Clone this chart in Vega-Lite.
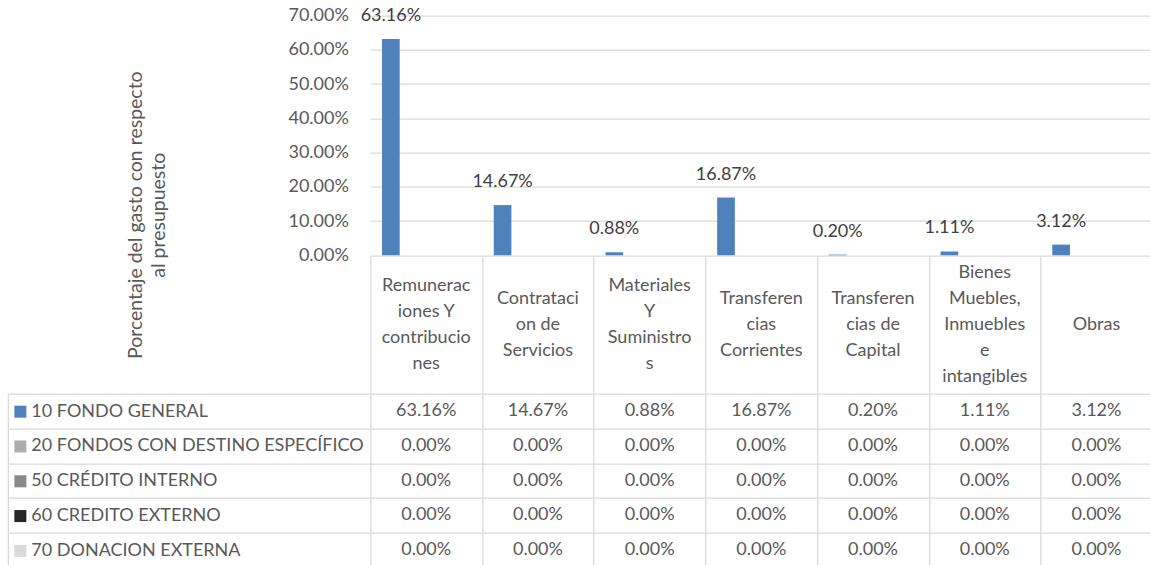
{
  "$schema": "https://vega.github.io/schema/vega-lite/v6.json",
  "background": "white",
  "autosize": {"type": "pad"},
  "padding": {"left": 6.35, "top": 6.7, "right": 0, "bottom": 0},
  "bounds": "flush",
  "spacing": 0,
  "config": {
    "view": {"stroke": null},
    "font": "Lato",
    "text": {"font": "Lato"},
    "axis": {"labelFont": "Lato", "titleFont": "Lato"},
    "legend": {"labelFont": "Lato"}
  },
  "datasets": {
    "gastos": [
      {"fuente": "10 FONDO GENERAL", "partida": "Remuneraciones Y contribuciones", "porcentaje": 0.6316},
      {"fuente": "10 FONDO GENERAL", "partida": "Contratacion de Servicios", "porcentaje": 0.1467},
      {"fuente": "10 FONDO GENERAL", "partida": "Materiales Y Suministros", "porcentaje": 0.0088},
      {"fuente": "10 FONDO GENERAL", "partida": "Transferencias Corrientes", "porcentaje": 0.1687},
      {"fuente": "10 FONDO GENERAL", "partida": "Transferencias de Capital", "porcentaje": 0.0020},
      {"fuente": "10 FONDO GENERAL", "partida": "Bienes Muebles, Inmuebles e intangibles", "porcentaje": 0.0111},
      {"fuente": "10 FONDO GENERAL", "partida": "Obras", "porcentaje": 0.0312},
      {"fuente": "20 FONDOS CON DESTINO ESPECÍFICO", "partida": "Remuneraciones Y contribuciones", "porcentaje": 0},
      {"fuente": "20 FONDOS CON DESTINO ESPECÍFICO", "partida": "Contratacion de Servicios", "porcentaje": 0},
      {"fuente": "20 FONDOS CON DESTINO ESPECÍFICO", "partida": "Materiales Y Suministros", "porcentaje": 0},
      {"fuente": "20 FONDOS CON DESTINO ESPECÍFICO", "partida": "Transferencias Corrientes", "porcentaje": 0},
      {"fuente": "20 FONDOS CON DESTINO ESPECÍFICO", "partida": "Transferencias de Capital", "porcentaje": 0},
      {"fuente": "20 FONDOS CON DESTINO ESPECÍFICO", "partida": "Bienes Muebles, Inmuebles e intangibles", "porcentaje": 0},
      {"fuente": "20 FONDOS CON DESTINO ESPECÍFICO", "partida": "Obras", "porcentaje": 0},
      {"fuente": "50 CRÉDITO INTERNO", "partida": "Remuneraciones Y contribuciones", "porcentaje": 0},
      {"fuente": "50 CRÉDITO INTERNO", "partida": "Contratacion de Servicios", "porcentaje": 0},
      {"fuente": "50 CRÉDITO INTERNO", "partida": "Materiales Y Suministros", "porcentaje": 0},
      {"fuente": "50 CRÉDITO INTERNO", "partida": "Transferencias Corrientes", "porcentaje": 0},
      {"fuente": "50 CRÉDITO INTERNO", "partida": "Transferencias de Capital", "porcentaje": 0},
      {"fuente": "50 CRÉDITO INTERNO", "partida": "Bienes Muebles, Inmuebles e intangibles", "porcentaje": 0},
      {"fuente": "50 CRÉDITO INTERNO", "partida": "Obras", "porcentaje": 0},
      {"fuente": "60 CREDITO EXTERNO", "partida": "Remuneraciones Y contribuciones", "porcentaje": 0},
      {"fuente": "60 CREDITO EXTERNO", "partida": "Contratacion de Servicios", "porcentaje": 0},
      {"fuente": "60 CREDITO EXTERNO", "partida": "Materiales Y Suministros", "porcentaje": 0},
      {"fuente": "60 CREDITO EXTERNO", "partida": "Transferencias Corrientes", "porcentaje": 0},
      {"fuente": "60 CREDITO EXTERNO", "partida": "Transferencias de Capital", "porcentaje": 0},
      {"fuente": "60 CREDITO EXTERNO", "partida": "Bienes Muebles, Inmuebles e intangibles", "porcentaje": 0},
      {"fuente": "60 CREDITO EXTERNO", "partida": "Obras", "porcentaje": 0},
      {"fuente": "70 DONACION EXTERNA", "partida": "Remuneraciones Y contribuciones", "porcentaje": 0},
      {"fuente": "70 DONACION EXTERNA", "partida": "Contratacion de Servicios", "porcentaje": 0},
      {"fuente": "70 DONACION EXTERNA", "partida": "Materiales Y Suministros", "porcentaje": 0},
      {"fuente": "70 DONACION EXTERNA", "partida": "Transferencias Corrientes", "porcentaje": 0},
      {"fuente": "70 DONACION EXTERNA", "partida": "Transferencias de Capital", "porcentaje": 0},
      {"fuente": "70 DONACION EXTERNA", "partida": "Bienes Muebles, Inmuebles e intangibles", "porcentaje": 0},
      {"fuente": "70 DONACION EXTERNA", "partida": "Obras", "porcentaje": 0}
    ],
    "partidas": [
      {"partida": "Remuneraciones Y contribuciones", "etiqueta": "Remunerac\niones Y\ncontribucio\nnes"},
      {"partida": "Contratacion de Servicios", "etiqueta": "Contrataci\non de\nServicios"},
      {"partida": "Materiales Y Suministros", "etiqueta": "Materiales\nY\nSuministro\ns"},
      {"partida": "Transferencias Corrientes", "etiqueta": "Transferen\ncias\nCorrientes"},
      {"partida": "Transferencias de Capital", "etiqueta": "Transferen\ncias de\nCapital"},
      {"partida": "Bienes Muebles, Inmuebles e intangibles", "etiqueta": "Bienes\nMuebles,\nInmuebles\ne\nintangibles"},
      {"partida": "Obras", "etiqueta": "Obras"}
    ]
  },
  "vconcat": [
    {
      "width": 782,
      "height": 239.6,
      "data": {"name": "gastos"},
      "encoding": {
        "x": {
          "field": "partida", "type": "nominal",
          "scale": {"domain": ["Remuneraciones Y contribuciones", "Contratacion de Servicios", "Materiales Y Suministros", "Transferencias Corrientes", "Transferencias de Capital", "Bienes Muebles, Inmuebles e intangibles", "Obras"], "paddingInner": 0, "paddingOuter": 0},
          "axis": null
        },
        "xOffset": {
          "field": "fuente", "type": "nominal",
          "scale": {"domain": ["10 FONDO GENERAL", "20 FONDOS CON DESTINO ESPECÍFICO", "50 CRÉDITO INTERNO", "60 CREDITO EXTERNO", "70 DONACION EXTERNA"], "paddingInner": 0, "paddingOuter": 0.66}
        },
        "y": {
          "field": "porcentaje", "type": "quantitative",
          "scale": {"domain": [0, 0.7], "nice": false, "zero": true},
          "axis": {
            "values": [0, 0.1, 0.2, 0.3, 0.4, 0.5, 0.6, 0.7],
            "format": ".2%",
            "domain": false, "ticks": false,
            "grid": true, "gridColor": "#D9D9D9", "gridWidth": 1.3,
            "labelPadding": 22, "labelFontSize": 18, "labelColor": "#595959",
            "title": ["Porcentaje del gasto con respecto", "al presupuesto"],
            "titleFontSize": 19.5, "titleFontWeight": "normal", "titleColor": "#595959",
            "titleAngle": 270, "titleAlign": "center", "titleBaseline": "middle",
            "titleLineHeight": 23, "titleX": -235, "titleY": 199
          }
        }
      },
      "layer": [
        {
          "mark": {"type": "bar"},
          "encoding": {
            "color": {
              "field": "fuente", "type": "nominal",
              "scale": {"domain": ["10 FONDO GENERAL", "20 FONDOS CON DESTINO ESPECÍFICO", "50 CRÉDITO INTERNO", "60 CREDITO EXTERNO", "70 DONACION EXTERNA"], "range": ["#4F81BD", "#ADADAD", "#8A8A8A", "#262626", "#D9D9D9"]},
              "legend": {
                "orient": "none", "legendX": -359, "legendY": 387,
                "title": null, "padding": 0,
                "symbolType": "square", "symbolSize": 144, "symbolStrokeWidth": 0, "symbolOpacity": 1,
                "labelFontSize": 18, "labelColor": "#595959", "labelOffset": 2, "labelLimit": 400,
                "rowPadding": 16.8
              }
            }
          }
        },
        {
          "transform": [{"filter": "datum.fuente === '10 FONDO GENERAL'"}],
          "mark": {"type": "text", "baseline": "middle", "dy": -23, "fontSize": 18, "color": "#404040"},
          "encoding": {
            "text": {"field": "porcentaje", "type": "quantitative", "format": ".2%"}
          }
        }
      ]
    },
    {
      "width": 782,
      "height": 138,
      "data": {"name": "partidas"},
      "mark": {"type": "text", "lineBreak": "\n", "lineHeight": 26, "fontSize": 18, "color": "#595959", "baseline": "middle", "align": "center", "dy": {"expr": "-13 * (length(split(datum.etiqueta, '\\n')) - 1)"}},
      "encoding": {
        "x": {
          "field": "partida", "type": "nominal",
          "scale": {"domain": ["Remuneraciones Y contribuciones", "Contratacion de Servicios", "Materiales Y Suministros", "Transferencias Corrientes", "Transferencias de Capital", "Bienes Muebles, Inmuebles e intangibles", "Obras"], "paddingInner": 0, "paddingOuter": 0},
          "axis": {"orient": "top", "labels": false, "ticks": false, "domain": false, "grid": true, "tickBand": "extent", "gridColor": "#D9D9D9", "gridWidth": 1.3, "title": null}
        },
        "text": {"field": "etiqueta", "type": "nominal"}
      }
    },
    {
      "width": 782,
      "height": 174,
      "data": {"name": "gastos"},
      "mark": {"type": "text", "fontSize": 18, "color": "#595959", "baseline": "middle", "align": "center"},
      "encoding": {
        "x": {
          "field": "partida", "type": "nominal",
          "scale": {"domain": ["Remuneraciones Y contribuciones", "Contratacion de Servicios", "Materiales Y Suministros", "Transferencias Corrientes", "Transferencias de Capital", "Bienes Muebles, Inmuebles e intangibles", "Obras"], "paddingInner": 0, "paddingOuter": 0},
          "axis": {"orient": "bottom", "labels": false, "ticks": false, "domain": false, "grid": true, "tickBand": "extent", "gridColor": "#D9D9D9", "gridWidth": 1.3, "title": null}
        },
        "y": {
          "field": "fuente", "type": "nominal",
          "scale": {"domain": ["10 FONDO GENERAL", "20 FONDOS CON DESTINO ESPECÍFICO", "50 CRÉDITO INTERNO", "60 CREDITO EXTERNO", "70 DONACION EXTERNA"], "paddingInner": 0, "paddingOuter": 0},
          "axis": {
            "orient": "left", "offset": 362.5,
            "labels": false, "title": null,
            "domain": true, "domainColor": "#D9D9D9", "domainWidth": 1.3,
            "ticks": true, "tickSize": -362.5, "tickBand": "extent", "tickColor": "#D9D9D9", "tickWidth": 1.3,
            "grid": true, "gridColor": "#D9D9D9", "gridWidth": 1.3
          }
        },
        "text": {"field": "porcentaje", "type": "quantitative", "format": ".2%"}
      }
    }
  ]
}
